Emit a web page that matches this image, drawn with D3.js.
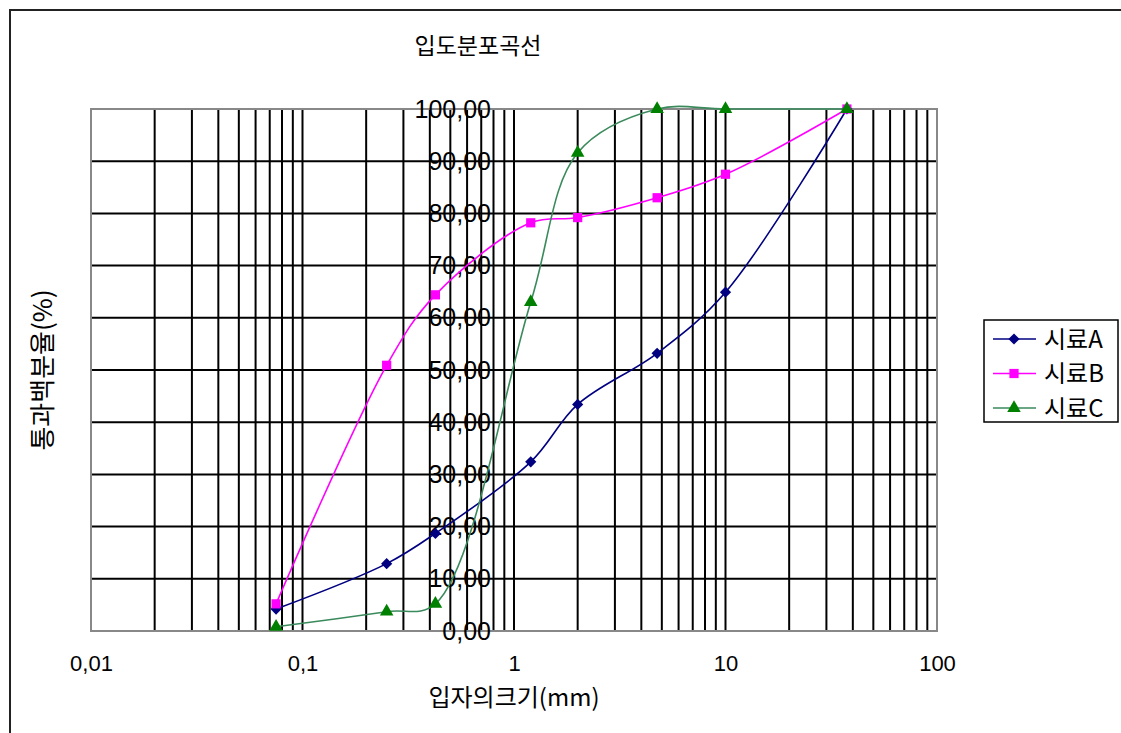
<!DOCTYPE html>
<html>
<head>
<meta charset="utf-8">
<script src="https://cdn.jsdelivr.net/npm/d3@7"></script>
<style>
  html, body { margin: 0; padding: 0; background: #fff; }
  svg { display: block; }
  text { font-family: "Liberation Sans", Arial, "Noto Sans CJK KR", sans-serif; fill: #000; }
  .kr { font-family: "Noto Sans CJK KR", "Liberation Sans", sans-serif; }
</style>
</head>
<body>
<div id="chart"></div>
<script>
// Data
const sizes = [0.075, 0.25, 0.425, 1.2, 2, 4.75, 10, 37.5];
const seriesNames = ['시료A', '시료B', '시료C'];
const valuesA = [4.2, 12.9, 18.7, 32.4, 43.4, 53.2, 64.9, 100];
const valuesB = [5.2, 50.9, 64.4, 78.2, 79.2, 83.0, 87.5, 100];
const valuesC = [0.8, 3.7, 5.2, 63.0, 91.6, 100, 100, 100];
const xTicks = [0.01, 0.1, 1, 10, 100];
const yTicks = [0, 10, 20, 30, 40, 50, 60, 70, 80, 90, 100];

const chartTitle = '입도분포곡선';
const xTitle = '입자의크기(mm)';
const yTitle = '통과백분율(%)';

const W = 1121, H = 733;
const plot = { left: 91, right: 937, top: 109, bottom: 631 };

const series = [
  { name: seriesNames[0], values: valuesA, line: '#000080', fill: '#000080', marker: 'diamond' },
  { name: seriesNames[1], values: valuesB, line: '#ff00ff', fill: '#ff00ff', marker: 'square' },
  { name: seriesNames[2], values: valuesC, line: '#3a8a5c', fill: '#008000', marker: 'triangle' }
];

const locale = d3.formatLocale({ decimal: ',', thousands: '.', grouping: [3], currency: ['', ''] });

const svg = d3.select('#chart').append('svg')
  .attr('width', W)
  .attr('height', H);

// outer chart border (only top/left visible in the picture)
svg.append('rect')
  .attr('x', 10).attr('y', 10)
  .attr('width', W + 20).attr('height', H + 20)
  .attr('fill', '#fff')
  .attr('stroke', '#222')
  .attr('stroke-width', 2);

const x = d3.scaleLog().domain([0.01, 100]).range([plot.left, plot.right]);
const y = d3.scaleLinear().domain([0, 100]).range([plot.bottom, plot.top]);

// vertical grid: every 1..9 inside each decade
const vGrid = [];
for (let d = 0.01; d < 100; d *= 10) {
  for (let k = 2; k <= 10; k++) vGrid.push(+(d * k).toPrecision(3));
}
vGrid.pop(); // 100 is the border

const grid = svg.append('g');
grid.selectAll('line.v')
  .data(vGrid)
  .join('line')
  .attr('class', 'v')
  .attr('x1', d => x(d)).attr('x2', d => x(d))
  .attr('y1', plot.top).attr('y2', plot.bottom)
  .attr('stroke', '#000')
  .attr('stroke-width', 2);

grid.selectAll('line.h')
  .data(yTicks.filter(d => d > 0 && d < 100))
  .join('line')
  .attr('class', 'h')
  .attr('x1', plot.left).attr('x2', plot.right)
  .attr('y1', d => y(d)).attr('y2', d => y(d))
  .attr('stroke', '#000')
  .attr('stroke-width', 2);

// bottom axis line
grid.append('line')
  .attr('x1', plot.left).attr('x2', plot.right)
  .attr('y1', plot.bottom).attr('y2', plot.bottom)
  .attr('stroke', '#000').attr('stroke-width', 2);

// plot border (grey)
svg.append('rect')
  .attr('x', plot.left).attr('y', plot.top)
  .attr('width', plot.right - plot.left).attr('height', plot.bottom - plot.top)
  .attr('fill', 'none')
  .attr('stroke', '#888')
  .attr('stroke-width', 2);

// x axis labels
const xAxis = d3.axisBottom(x)
  .tickValues(xTicks)
  .tickSize(0)
  .tickPadding(24)
  .tickFormat(d => String(d).replace('.', ','));
const gx = svg.append('g')
  .attr('transform', `translate(0,${plot.bottom})`)
  .call(xAxis);
gx.select('.domain').remove();
gx.selectAll('text').attr('font-size', 22).attr('font-family', '"Liberation Sans", Arial, sans-serif').attr('fill', '#000');

// y axis labels sit at x = 1
const yAxis = d3.axisLeft(y)
  .tickValues(yTicks)
  .tickSize(0)
  .tickPadding(23)
  .tickFormat(locale.format('.2f'));
const gy = svg.append('g')
  .attr('transform', `translate(${x(1)},0)`)
  .call(yAxis);
gy.select('.domain').remove();
gy.selectAll('text').attr('font-size', 25).attr('font-family', '"Liberation Sans", Arial, sans-serif').attr('fill', '#000');

// series lines (smoothed like Excel)
const line = d3.line()
  .x((d, i) => x(sizes[i]))
  .y(d => y(d))
  .curve(d3.curveCatmullRom.alpha(0.5));

const symbolOf = {
  diamond: d3.symbol().type(d3.symbolDiamond2).size(80),
  square: d3.symbol().type(d3.symbolSquare).size(85),
  triangle: d3.symbol().type(d3.symbolTriangle).size(80)
};

series.forEach(s => {
  const g = svg.append('g');
  g.append('path')
    .attr('d', line(s.values))
    .attr('fill', 'none')
    .attr('stroke', s.line)
    .attr('stroke-width', 1.6);
  g.selectAll('path.m')
    .data(s.values)
    .join('path')
    .attr('class', 'm')
    .attr('transform', (d, i) => `translate(${x(sizes[i])},${y(d)})`)
    .attr('d', symbolOf[s.marker]())
    .attr('fill', s.fill);
});

// titles
svg.append('text')
  .attr('class', 'kr')
  .attr('x', 478).attr('y', 54)
  .attr('text-anchor', 'middle')
  .attr('font-size', 23)
  .text(chartTitle);

svg.append('text')
  .attr('class', 'kr')
  .attr('x', x(1)).attr('y', 706)
  .attr('text-anchor', 'middle')
  .attr('font-size', 24)
  .text(xTitle);

svg.append('text')
  .attr('class', 'kr')
  .attr('transform', `translate(52,370) rotate(-90)`)
  .attr('text-anchor', 'middle')
  .attr('font-size', 26)
  .text(yTitle);

// legend
const legend = svg.append('g').attr('transform', 'translate(984,320)');
legend.append('rect')
  .attr('width', 134).attr('height', 102)
  .attr('fill', '#fff')
  .attr('stroke', '#000')
  .attr('stroke-width', 1.5);

series.forEach((s, i) => {
  const row = legend.append('g').attr('transform', `translate(0,${19 + i * 34.5})`);
  row.append('line')
    .attr('x1', 9).attr('x2', 52)
    .attr('stroke', s.line)
    .attr('stroke-width', 1.6);
  row.append('path')
    .attr('transform', 'translate(30,0)')
    .attr('d', symbolOf[s.marker]())
    .attr('fill', s.fill);
  row.append('text')
    .attr('class', 'kr')
    .attr('x', 60).attr('y', 0)
    .attr('dy', '0.36em')
    .attr('font-size', 24)
    .text(s.name);
});
</script>
</body>
</html>
